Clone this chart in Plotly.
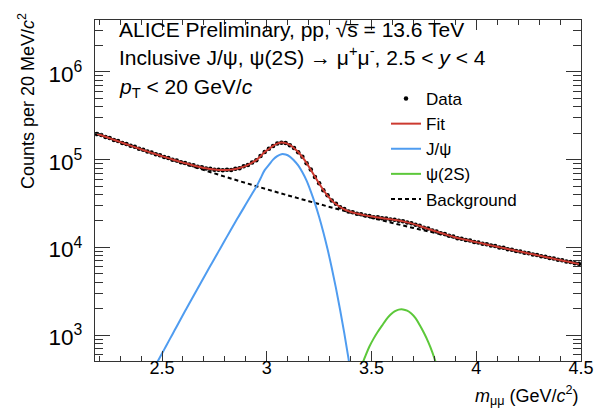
import plotly.graph_objects as go

# ---------------- data ----------------
mass = [round(2.19 + 0.02 * i, 2) for i in range(116)]

fit_counts = [
    197000, 189500, 182200, 175200, 168500, 162000, 155800, 149950, 144300, 138900,
    133700, 128800, 124100, 119550, 115650, 111560, 107620, 103960, 100460, 97140,
    94000, 91080, 88370, 85860, 83560, 81490, 79740, 78290, 77150, 76380,
    76020, 76170, 76920, 78340, 80340, 83190, 87100, 92240, 98810, 109170,
    122520, 132280, 143780, 152070, 156450, 154110, 146990, 135150, 122190, 106800,
    91660, 76550, 63810, 53340, 45100, 38890, 34340, 31120, 28830, 27160,
    25900, 24920, 24340, 23700, 23140, 22690, 22280, 21880, 21520, 21180,
    20880, 20540, 20180, 19760, 19270, 18750, 18160, 17500, 16850, 16250,
    15670, 15120, 14590, 14100, 13650, 13230, 12780, 12480, 12180, 11880,
    11600, 11320, 11050, 10790, 10530, 10280, 10040, 9810, 9580, 9360,
    9150, 8935, 8728, 8526, 8328, 8135, 7947, 7765, 7587, 7413,
    7243, 7078, 6916, 6758, 6604, 6453,
]

data_counts = [
    195500, 190800, 181300, 176500, 167200, 163100, 154900, 151000, 143500, 139800,
    132900, 129700, 123400, 120300, 114900, 112300, 106900, 104600, 99800, 97800,
    93400, 91700, 87800, 86400, 83100, 82000, 79200, 78800, 76700, 76900,
    75600, 76700, 76400, 78900, 79900, 83800, 86600, 92900, 98200, 109900,
    121800, 133100, 142900, 152900, 155600, 155000, 146200, 135900, 121500, 107500,
    91100, 77100, 63400, 53800, 44800, 39200, 34100, 31400, 28600, 27400,
    25700, 25100, 24200, 23850, 23000, 22800, 22100, 22000, 21400, 21300,
    20750, 20650, 20100, 19850, 19150, 18850, 18050, 17600, 16750, 16350,
    15600, 15200, 14510, 14180, 13580, 13300, 12710, 12550, 12110, 11950,
    11530, 11390, 10990, 10850, 10470, 10340, 9980, 9870, 9520, 9410,
    9100, 8990, 8680, 8570, 8280, 8180, 7900, 7810, 7540, 7460,
    7200, 7120, 6880, 6790, 6570, 6480,
]

bg_mass = [2.18, 2.2, 2.3, 2.4, 2.5, 2.6, 2.7, 2.8, 2.9, 3.0, 3.1, 3.2, 3.3,
           3.4, 3.5, 3.6, 3.7, 3.8, 3.9, 4.0, 4.1, 4.2, 4.3, 4.4, 4.5]
bg_counts = [201000, 193200, 158900, 131200, 108900, 90800, 76000, 64000, 54100,
             45900, 39200, 33600, 28900, 25000, 21700, 18970, 16630, 14660, 12940,
             11460, 10160, 9040, 8040, 7160, 6380]

jpsi_mass = [round(2.47 + 0.02 * i, 2) for i in range(48)]
jpsi_counts = [
    457, 557, 682, 836, 1023, 1253, 1535, 1875, 2286, 2786,
    3396, 4140, 5035, 6109, 7413, 8995, 10914, 13243, 16069, 19498,
    23442, 28184, 33884, 40738, 48978, 60954, 75858, 87096, 100000, 109648,
    115345, 114288, 108393, 97724, 85901, 71614, 57544, 43451, 31696, 22182,
    14859, 9550, 5861, 3451, 1945, 1050, 542, 268,
]

psi2s_mass = [round(3.41 + 0.02 * i, 2) for i in range(24)]
psi2s_counts = [
    230, 320, 430, 570, 740, 910, 1090, 1280, 1500, 1700,
    1860, 1950, 1960, 1900, 1760, 1560, 1300, 1060, 840, 640,
    460, 320, 215, 140,
]

y_tick_dtick = 1
x_tick_step = 0.5

# ---------------- styles ----------------
FONT = "Liberation Sans, Arial, Helvetica, sans-serif"
RED = "#cc3a30"
BLUE = "#4f9cf0"
GREEN = "#5cc83a"

fig = go.Figure()

fig.add_trace(go.Scatter(
    x=mass, y=data_counts, mode="markers", name="Data",
    marker=dict(color="black", size=4.5), legendrank=1,
))
fig.add_trace(go.Scatter(
    x=bg_mass, y=bg_counts, mode="lines", name="Background",
    line=dict(color="black", width=2, dash="4px,3px", shape="spline"), legendrank=5,
))
fig.add_trace(go.Scatter(
    x=jpsi_mass, y=jpsi_counts, mode="lines", name="J/ψ",
    line=dict(color=BLUE, width=2, shape="spline"), legendrank=3,
))
fig.add_trace(go.Scatter(
    x=psi2s_mass, y=psi2s_counts, mode="lines", name="ψ(2S)",
    line=dict(color=GREEN, width=2, shape="spline"), legendrank=4,
))
fig.add_trace(go.Scatter(
    x=mass, y=fit_counts, mode="lines", name="Fit",
    line=dict(color=RED, width=2, shape="spline"), legendrank=2,
))

fig.update_xaxes(
    range=[2.18, 4.5], tickmode="linear", tick0=0, dtick=x_tick_step,
    showline=True, linecolor="#333333", linewidth=1.2, mirror="allticks",
    ticks="inside", ticklen=10, tickwidth=1.3, tickcolor="#333333",
    ticklabelstandoff=-10,
    minor=dict(ticks="inside", ticklen=5, tick0=0, dtick=0.1, tickwidth=1.3,
               tickcolor="#333333", showgrid=False),
    showgrid=False, zeroline=False,
    tickfont=dict(family=FONT, size=18, color="black"),
)
fig.update_yaxes(
    type="log", range=[2.704, 6.592], tickmode="linear", tick0=0, dtick=y_tick_dtick,
    exponentformat="power", showexponent="all",
    showline=True, linecolor="#333333", linewidth=1.2, mirror="allticks",
    ticks="inside", ticklen=15, tickwidth=1.3, tickcolor="#333333",
    ticklabelstandoff=8, ticklabelshift=2,
    minor=dict(ticks="inside", ticklen=8, dtick="D1", tickwidth=1.3,
               tickcolor="#333333", showgrid=False),
    showgrid=False, zeroline=False,
    tickfont=dict(family=FONT, size=18, color="black"),
)

annotations = [
    dict(text="ALICE Preliminary, pp, √s\u0305 = 13.6 TeV", x=109, y=22),
    dict(text="Inclusive J/ψ, ψ(2S) → μ<sup>+</sup>μ<sup>-</sup>, 2.5 &lt; <i>y</i> &lt; 4", x=109, y=48),
    dict(text="<i>p</i><sub>T</sub> &lt; 20 GeV/<i>c</i>", x=109, y=80),
]
ann = []
for a in annotations:
    ann.append(dict(
        text=a["text"], xref="paper", yref="paper",
        x=(a["x"] - 87) / 486, y=1 - (a["y"] - 12) / 341,
        xanchor="left", yanchor="middle", showarrow=False,
        font=dict(family=FONT, size=21, color="black"),
    ))
# axis titles
ann.append(dict(
    text="Counts per 20 MeV/<i>c</i><sup>2</sup>", xref="paper", yref="paper",
    x=(18 - 87) / 486, y=1 + (12 - 3) / 341, xanchor="center", yanchor="top",
    textangle=-90, showarrow=False, font=dict(family=FONT, size=18, color="black"),
))
ann.append(dict(
    text="<i>m</i><sub>μμ</sub> (GeV/<i>c</i><sup>2</sup>)", xref="paper", yref="paper",
    x=1, y=-(388 - 353) / 341, xanchor="right", yanchor="middle",
    showarrow=False, font=dict(family=FONT, size=18, color="black"),
))
ann.append(dict(
    text="ALI-PREL-550454", xref="paper", yref="paper",
    x=0, xshift=-87, y=-(403 - 353) / 341, xanchor="left", yanchor="top",
    showarrow=False, font=dict(family=FONT, size=11, color="#aaaaaa"),
))

fig.update_layout(
    width=606, height=410,
    margin=dict(l=87, r=33, t=12, b=57),
    paper_bgcolor="white", plot_bgcolor="white",
    annotations=ann,
    showlegend=True,
    legend=dict(
        x=(378 - 87) / 486, y=1 - (73 - 12) / 341, xanchor="left", yanchor="top",
        bgcolor="rgba(0,0,0,0)", borderwidth=0,
        font=dict(family=FONT, size=17, color="black"),
        itemwidth=30, tracegroupgap=0,
    ),
)

fig.write_html("out.html")
